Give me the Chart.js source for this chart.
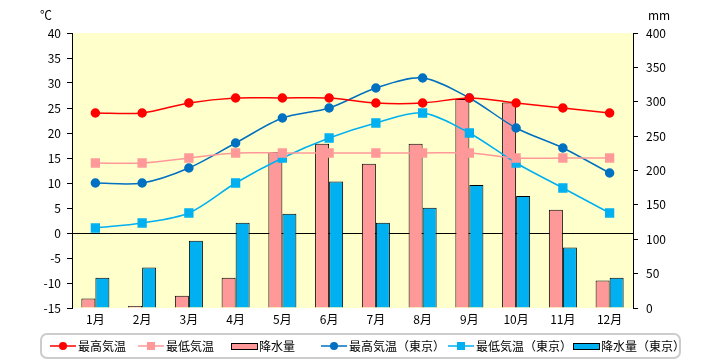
<!DOCTYPE html>
<html>
<head>
<meta charset="utf-8">
<script src="https://cdn.jsdelivr.net/npm/chart.js@4"></script>
<style>
  html, body { margin: 0; padding: 0; background: #fff; }
  #wrap { width: 720px; height: 360px; }
</style>
</head>
<body>
<div id="wrap"><canvas id="climateChart" width="720" height="360"></canvas></div>
<script>
// categories
const months = ['1月', '2月', '3月', '4月', '5月', '6月', '7月', '8月', '9月', '10月', '11月', '12月'];

// temperature (°C)
const maxTemp = [24, 24, 26, 27, 27, 27, 26, 26, 27, 26, 25, 24];
const minTemp = [14, 14, 15, 16, 16, 16, 16, 16, 16, 15, 15, 15];
const maxTempTokyo = [10, 10, 13, 18, 23, 25, 29, 31, 27, 21, 17, 12];
const minTempTokyo = [1, 2, 4, 10, 15, 19, 22, 24, 20, 14, 9, 4];

// precipitation (mm)
const rain = [14, 3, 18, 44, 227, 239, 210, 239, 304, 299, 143, 40];
const rainTokyo = [44, 59, 98, 124, 137, 184, 124, 146, 179, 163, 88, 44];

const FONT = '"Noto Sans CJK JP", "DejaVu Sans", sans-serif';

// yellow plot background + axis unit labels
const plotBg = {
    id: 'plotBg',
    beforeDraw(chart) {
        const a = chart.chartArea;
        const c = chart.ctx;
        c.save();
        c.fillStyle = '#FFFFCC';
        c.fillRect(a.left, a.top, a.right - a.left, a.bottom - a.top);
        c.fillStyle = '#000';
        c.font = '12px ' + FONT;
        c.textBaseline = 'middle';
        c.textAlign = 'left';
        c.fillText('℃', 40, 15);
        c.fillText('mm', 648, 15);
        c.restore();
    }
};

// boxed legend at the bottom (line + marker / bar swatch)
const boxLegend = {
    id: 'boxLegend',
    afterDraw(chart) {
        const c = chart.ctx;
        const starts = [50, 138, 231, 321, 448, 573];
        const cy = 346;
        c.save();
        c.strokeStyle = '#CCCCCC';
        c.lineWidth = 2;
        c.beginPath();
        c.roundRect(41, 334, 639, 24, 6);
        c.stroke();

        c.font = '12px ' + FONT;
        c.textBaseline = 'middle';
        c.textAlign = 'left';
        chart.data.datasets.forEach((ds, i) => {
            const x = starts[i];
            if (ds.type === 'bar') {
                c.fillStyle = ds.backgroundColor;
                c.fillRect(x, cy - 3, 26, 6);
                c.strokeStyle = '#000';
                c.lineWidth = 1;
                c.strokeRect(x + 0.5, cy - 2.5, 26, 6);
            } else {
                c.strokeStyle = ds.borderColor;
                c.lineWidth = 1.5;
                c.beginPath();
                c.moveTo(x, cy);
                c.lineTo(x + 26, cy);
                c.stroke();
                c.fillStyle = ds.pointBackgroundColor;
                c.beginPath();
                if (ds.pointStyle === 'rect') {
                    c.fillRect(x + 9, cy - 4, 8, 8);
                } else {
                    c.arc(x + 13, cy, 4, 0, Math.PI * 2);
                    c.fill();
                }
            }
            c.fillStyle = '#000';
            c.fillText(ds.label, x + 28, cy);
        });
        c.restore();
    }
};

function lineSet(label, data, color, style) {
    return {
        type: 'line',
        label: label,
        data: data,
        yAxisID: 'y',
        borderColor: color,
        backgroundColor: color,
        pointBackgroundColor: color,
        pointBorderColor: color,
        pointStyle: style,
        pointRadius: style === 'rect' ? 5.5 : 4,
        borderWidth: 1.5,
        tension: 0.3,
        order: 1
    };
}

function barSet(label, data, color) {
    return {
        type: 'bar',
        label: label,
        data: data,
        yAxisID: 'y1',
        backgroundColor: color,
        borderColor: '#000',
        borderWidth: 1,
        categoryPercentage: 0.6,
        barPercentage: 1.0,
        order: 2
    };
}

const ctx = document.getElementById('climateChart').getContext('2d');
new Chart(ctx, {
    data: {
        labels: months,
        datasets: [
            lineSet('最高気温', maxTemp, '#FF0000', 'circle'),
            lineSet('最低気温', minTemp, '#FF9999', 'rect'),
            barSet('降水量', rain, '#FF9999'),
            lineSet('最高気温（東京）', maxTempTokyo, '#0070C0', 'circle'),
            lineSet('最低気温（東京）', minTempTokyo, '#00B0F0', 'rect'),
            barSet('降水量（東京）', rainTokyo, '#00B0F0')
        ]
    },
    options: {
        responsive: false,
        animation: false,
        layout: { padding: { top: 33, bottom: 27, left: 0, right: 0 } },
        plugins: {
            legend: { display: false },
            tooltip: { enabled: false }
        },
        scales: {
            x: {
                offset: true,
                grid: { display: false, drawTicks: false },
                border: { display: false },
                ticks: { color: '#000', font: { family: FONT, size: 12 }, padding: 4 },
                afterFit(scale) { scale.height = 25; }
            },
            y: {
                position: 'left',
                min: -15,
                max: 40,
                ticks: { stepSize: 5, color: '#000', font: { family: FONT, size: 12 }, padding: 6 },
                grid: {
                    drawOnChartArea: true,
                    color: c => (c.tick && c.tick.value === 0 ? '#000' : 'transparent'),
                    lineWidth: 1,
                    tickColor: '#000',
                    tickLength: 5
                },
                border: { display: true, color: '#000', width: 1 },
                afterFit(scale) { scale.width = 72; }
            },
            y1: {
                position: 'right',
                min: 0,
                max: 400,
                ticks: { stepSize: 50, color: '#000', font: { family: FONT, size: 12 }, padding: 8 },
                grid: {
                    drawOnChartArea: false,
                    tickColor: '#000',
                    tickLength: 5
                },
                border: { display: true, color: '#000', width: 1 },
                afterFit(scale) { scale.width = 87; }
            }
        }
    },
    plugins: [plotBg, boxLegend]
});
</script>
</body>
</html>
